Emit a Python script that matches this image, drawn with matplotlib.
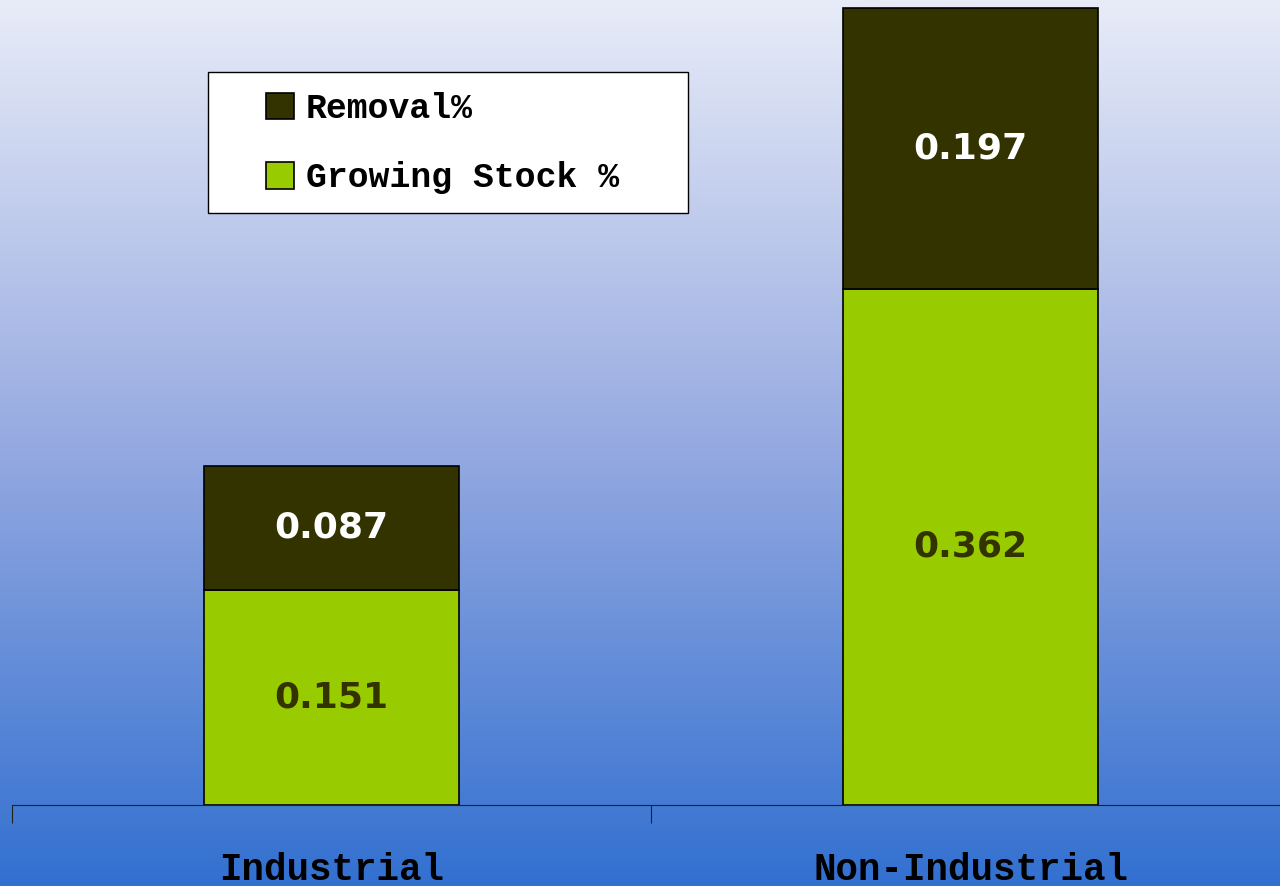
import numpy as np
import matplotlib
matplotlib.use("Agg")
import matplotlib.pyplot as plt
from matplotlib.patches import Rectangle

categories = ["Industrial", "Non-Industrial"]
growing = [0.151, 0.362]
removal = [0.087, 0.197]

dark = "#333300"
green = "#99cc00"

fig = plt.figure(figsize=(12.8, 8.86), dpi=100)

# gradient background
bg = fig.add_axes([0, 0, 1, 1])
top = np.array([232, 236, 248]) / 255
mid = np.array([150, 170, 225]) / 255
bot = np.array([50, 112, 208]) / 255
t = np.linspace(0, 1, 400)[:, None]
grad = np.where(t < 0.5, top + (mid - top) * (t / 0.5), mid + (bot - mid) * ((t - 0.5) / 0.5))
bg.imshow(grad[:, None, :], aspect="auto", extent=[0, 1, 0, 1])
bg.axis("off")

ax = fig.add_axes([12 / 1280, 1 - 805 / 886, 1278 / 1280, 805 / 886])
ax.patch.set_alpha(0)
x = np.arange(len(categories))
w = 0.40
b1 = ax.bar(x, growing, w, color=green, edgecolor="black", linewidth=1.2, label="Growing Stock %")
b2 = ax.bar(x, removal, w, bottom=growing, color=dark, edgecolor="black", linewidth=1.2, label="Removal%")

for i in range(len(categories)):
    ax.text(x[i], growing[i] / 2, "%.3f" % growing[i], ha="center", va="center",
            fontsize=26, fontweight="bold", color=dark, family="DejaVu Sans")
    ax.text(x[i], growing[i] + removal[i] / 2, "%.3f" % removal[i], ha="center", va="center",
            fontsize=26, fontweight="bold", color="white", family="DejaVu Sans")

ax.set_xlim(-0.5, 1.5)
ax.set_ylim(0, 0.559 * 805 / 797)
for s in ["top", "right", "left"]:
    ax.spines[s].set_visible(False)
ax.spines["bottom"].set_color("#222222")
ax.set_yticks([])
ax.set_xticks([-0.5, 0.5, 1.5])
ax.set_xticklabels([])
ax.tick_params(axis="x", length=13, direction="out", color="#222222")
ax.set_xticks(x, minor=True)
ax.set_xticklabels(categories, minor=True, fontsize=27, fontweight="bold", family="Liberation Mono")
ax.tick_params(axis="x", which="minor", length=0, pad=34)

# legend box
fig.patches.append(Rectangle((208 / 1280, 1 - 213 / 886), 480 / 1280, 141 / 886,
                             transform=fig.transFigure, facecolor="white",
                             edgecolor="black", linewidth=1.0, zorder=5))
leg = fig.legend([b2, b1], ["Removal%", "Growing Stock %"], loc="upper left",
                 bbox_to_anchor=(266 / 1280, 1 - 92 / 886),
                 prop={"family": "Liberation Mono", "weight": "bold", "size": 25},
                 frameon=False, handlelength=0.8, handleheight=0.8,
                 labelspacing=1.05, borderpad=0, borderaxespad=0, handletextpad=0.35)
leg.set_zorder(6)

fig.savefig("out.png", dpi=100)
